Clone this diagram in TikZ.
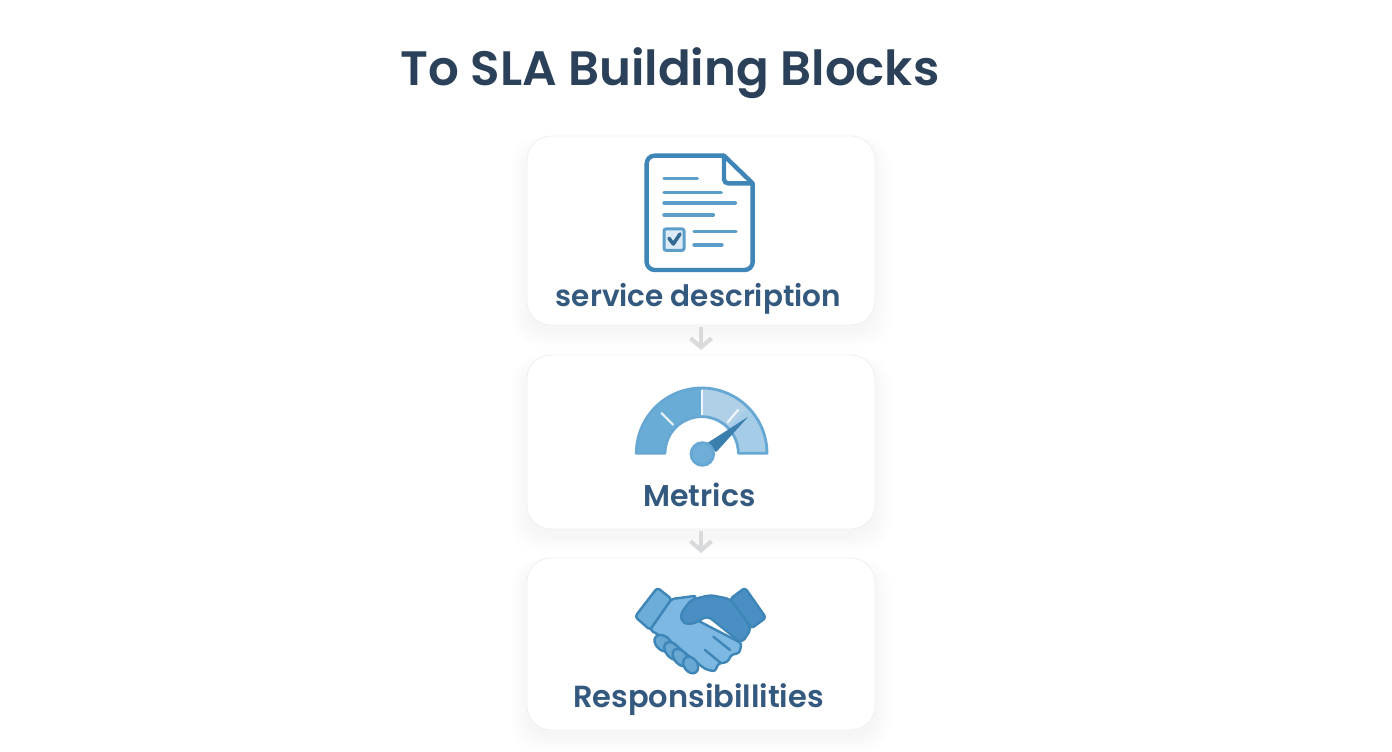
\documentclass[tikz,border=0pt]{standalone}
\usepackage{fontspec}
\setmainfont{Poppins}[BoldFont={* SemiBold}]
\usetikzlibrary{arrows.meta}
\definecolor{titlec}{HTML}{2B4059}
\definecolor{labelc}{HTML}{34597F}
\definecolor{edgec}{HTML}{3E85B8}
\definecolor{linec}{HTML}{5B9FC9}
\definecolor{boxline}{HTML}{EEF1F3}
\definecolor{shadowc}{HTML}{8C96A0}
\definecolor{arrowc}{HTML}{D8DADB}
\definecolor{gaugeA}{HTML}{69ADD7}
\definecolor{gaugeB}{HTML}{6FAED8}
\definecolor{gaugeC}{HTML}{AFD0E6}
\definecolor{gaugeD}{HTML}{A6CDE8}
\definecolor{gaugeE}{HTML}{66A8D3}
\definecolor{needlec}{HTML}{3B7FAF}
\definecolor{handL}{HTML}{7DB8E2}
\definecolor{handD}{HTML}{4A8FC3}
\definecolor{cuffL}{HTML}{6CADD9}
\definecolor{fingc}{HTML}{6AA8D4}
\definecolor{boxfill}{HTML}{DCEBF6}
\tikzset{
  x=1pt,y=-1pt,
  card/.style={draw=boxline,line width=0.9pt,fill=white,rounded corners=24pt,minimum width=348pt,inner sep=0pt,outer sep=0pt},
  cardshadow/.style={fill=shadowc,fill opacity=0.005,rounded corners=26pt},
  flow/.style={draw=arrowc,line width=4.6pt,shorten <=2pt,shorten >=5pt,-{Straight Barb[length=9pt,width=21pt,line width=4.2pt]}},
  label/.style={font=\fontsize{#1}{32}\selectfont\bfseries,text=labelc,inner sep=0pt},
  ttl/.style={font=\fontsize{48.3}{52}\selectfont\bfseries,text=titlec,inner sep=0pt},
  icon/.style={shift={(620,#1)},x=0.3333pt,y=-0.3333pt},
  docline/.style={draw=linec,line width=3.4pt,line cap=round},
  tick/.style={draw=white,line width=2pt,opacity=.85},
  handedge/.style={draw=edgec,line width=2.4pt,line join=round,rounded corners=3pt},
}
\newcommand{\cardshadows}[2]{%
  \foreach \k in {0,2,...,16}{
    \fill[cardshadow] (527-\k,#1+8-\k*0.4) rectangle (875+\k,#2+8+\k*0.8);
  }}
\begin{document}
\begin{tikzpicture}
\useasboundingbox (0,0) rectangle (1392,752);
\fill[white] (0,0) rectangle (1392,752);
\cardshadows{136}{325}
\cardshadows{355}{529}
\cardshadows{558}{730}
\node[card,minimum height=189pt] (box1) at (701,230.5) {};
\node[card,minimum height=174pt] (box2) at (701,442) {};
\node[card,minimum height=172pt] (box3) at (701,644) {};
\draw[flow] (box1) -- (box2);
\draw[flow] (box2) -- (box3);
\node[ttl] (title) at (670,73) {To SLA Building Blocks};
\node[label=29.5] (lab1) at (698.5,299) {service description};
\node[label=30] (lab2) at (699.5,495) {Metrics};
\node[label=30.5] (lab3) at (698.5,700) {Responsibillities};
% document icon
\begin{scope}[icon=140]
  \draw[edgec,line width=4.4pt,line join=round,fill=white,rounded corners=8pt]
    (312,47) -- (80,47) -- (80,390) -- (398,390) -- (398,130);
  \draw[edgec,line width=4.4pt,line join=round,line cap=round] (398,130) -- (312,47);
  \draw[edgec,line width=4.4pt,line join=round,rounded corners=4pt] (312,47) -- (312,130) -- (398,130);
  \draw[docline] (132,116) -- (232,116);
  \draw[docline] (132,157) -- (304,157);
  \draw[docline] (132,189) -- (346,189);
  \draw[docline] (132,225) -- (280,225);
  \draw[docline] (222,275) -- (348,275);
  \draw[docline] (222,315) -- (306,315);
  \draw[draw=linec,fill=boxfill,line width=3pt,rounded corners=2pt] (132,267) rectangle (192,331);
  \draw[edgec!80!black,line width=3.6pt,line cap=round,line join=round] (147,295) -- (160,312) -- (180,282);
\end{scope}
% gauge
\begin{scope}[icon=375]
  \def\cx{245}\def\cy{235}\def\Ro{196}\def\Ri{110}
  \fill[gaugeA] (\cx-\Ro,\cy) arc[start angle=180,end angle=270,radius=\Ro] -- (\cx,\cy-\Ri) arc[start angle=270,end angle=180,radius=\Ri] -- cycle;
  \fill[gaugeC] (\cx,\cy-\Ro) arc[start angle=270,end angle=315,radius=\Ro] -- ({\cx+\Ri*cos(45)},{\cy-\Ri*sin(45)}) arc[start angle=315,end angle=270,radius=\Ri] -- cycle;
  \fill[gaugeD] ({\cx+\Ro*cos(45)},{\cy-\Ro*sin(45)}) arc[start angle=315,end angle=360,radius=\Ro] -- (\cx+\Ri,\cy) arc[start angle=360,end angle=315,radius=\Ri] -- cycle;
  \draw[gaugeE,line width=2.8pt,line join=round] (\cx-\Ro,\cy) arc[start angle=180,end angle=360,radius=\Ro] -- (\cx+\Ri,\cy) arc[start angle=360,end angle=180,radius=\Ri] -- cycle;
  \draw[tick] ({\cx+(\Ri+10)*cos(135)},{\cy-(\Ri+10)*sin(135)}) -- ({\cx+(\Ri+62)*cos(135)},{\cy-(\Ri+62)*sin(135)});
  \draw[tick] (\cx,\cy-\Ri-6) -- (\cx,\cy-\Ro+6);
  \draw[tick] ({\cx+(\Ri+10)*cos(50)},{\cy-(\Ri+10)*sin(50)}) -- ({\cx+(\Ri+62)*cos(50)},{\cy-(\Ri+62)*sin(50)});
  \fill[needlec,rounded corners=1pt] (262,204) -- (385,125) -- (288,232) -- cycle;
  \draw[gaugeE,fill=gaugeB,line width=2.8pt] (247,237) circle[radius=34];
\end{scope}
% handshake
\begin{scope}[icon=575]
  \draw[handedge,fill=cuffL] (112,38) -- (155,72) -- (90,165) -- (45,125) -- cycle;
  \draw[handedge,fill=handD] (375,38) -- (438,128) -- (395,160) -- (330,72) -- cycle;
  \draw[handedge,fill=handL] (155,72) -- (230,62) -- (190,110) -- (240,140) -- (365,205) -- (358,235) -- (335,238) -- (322,262) -- (295,265) -- (285,290) -- (255,282) -- (215,250) -- (160,205) -- (90,165) -- cycle;
  \draw[handedge,fill=handD,rounded corners=5pt] (180,120) -- (212,75) -- (270,60) -- (330,72) -- (395,160) -- (365,205) -- (262,122) -- (225,145) -- (190,148) -- cycle;
  \foreach \px/\py/\rr/\ra/\rb in {130/205/-40/30/21,158/228/-50/31/20,182/248/-50/30/19,212/270/-55/27/20}{
    \draw[edgec,line width=2.4pt,fill=fingc,rotate around={\rr:(\px,\py)}] (\px,\py) ellipse[x radius=\ra,y radius=\rb];
  }
  \draw[edgec,line width=2.4pt,line cap=round] (280,185) -- (330,225);
  \draw[edgec,line width=2.4pt,line cap=round] (255,225) -- (300,262);
\end{scope}
\end{tikzpicture}
\end{document}
